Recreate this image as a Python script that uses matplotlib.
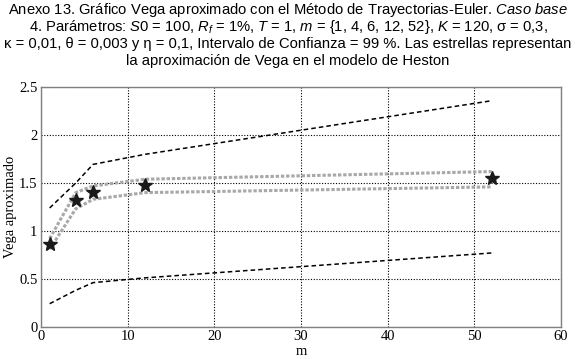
import matplotlib
matplotlib.use("Agg")
import matplotlib.pyplot as plt

m = [1, 4, 6, 12, 52]
upper_black = [1.24, 1.50, 1.695, 1.80, 2.36]
lower_black = [0.24, 0.38, 0.46, 0.51, 0.77]
upper_gray = [0.92, 1.40, 1.47, 1.54, 1.62]
lower_gray = [0.81, 1.23, 1.33, 1.40, 1.46]
heston = [0.86, 1.32, 1.41, 1.48, 1.55]

xticks = [0, 10, 20, 30, 40, 50, 60]
yticks = [0, 0.5, 1, 1.5, 2, 2.5]
yticklabels = ["0", "0.5", "1", "1.5", "2", "2.5"]

plt.rcParams['mathtext.fontset'] = 'custom'
plt.rcParams['mathtext.rm'] = 'Liberation Sans'
plt.rcParams['mathtext.it'] = 'Liberation Sans:italic'

fig = plt.figure(figsize=(5.76, 3.59), dpi=100)
ax = fig.add_axes([0.0712, 0.090, 0.9028, 0.6668])

ax.plot(m, upper_black, color='black', lw=1.1, dashes=(3, 2))
ax.plot(m, lower_black, color='black', lw=1.1, dashes=(3, 2))
ax.plot(m, upper_gray, color='#a8a8a8', lw=2.2, dashes=(1.1, 0.6))
ax.plot(m, lower_gray, color='#a8a8a8', lw=2.2, dashes=(1.1, 0.6))
ax.plot(m, heston, linestyle='none', marker='*', markersize=10, color='#1a1a1a')

ax.set_xlim(0, 60)
ax.set_ylim(0, 2.5)
ax.set_xticks(xticks)
ax.set_yticks(yticks)
ax.set_yticklabels(yticklabels)
ax.grid(True, color='black', lw=0.8, dashes=(1, 1.5))
ax.set_axisbelow(True)
for s in ax.spines.values():
    s.set_color('#808080')
    s.set_linewidth(1.0)
ax.tick_params(length=0, pad=2.5, labelsize=10.5)
for lab in ax.get_xticklabels() + ax.get_yticklabels():
    lab.set_fontfamily('Liberation Serif')
ax.set_xlabel('m', fontfamily='Liberation Serif', fontsize=10.5, labelpad=1)
ax.set_ylabel('Vega aproximado', fontfamily='Liberation Serif', fontsize=10.5)
ax.yaxis.set_label_coords(-24 / 520, 0.5)

tf = dict(ha='center', va='center', fontsize=10.6, fontfamily='Liberation Sans')
fig.text(0.5, 1 - 10 / 359, r"Anexo 13. Gráfico Vega aproximado con el Método de Trayectorias-Euler. $\mathit{Caso\ base}$", **tf)
fig.text(0.5, 1 - 27 / 359, r"4. Parámetros: $\mathit{S0}$ = 100, $\mathit{R}_{\mathit{f}}$ = 1%, $\mathit{T}$ = 1, $\mathit{m}$ = {1, 4, 6, 12, 52}, $\mathit{K}$ = 120, σ = 0,3,", **tf)
fig.text(0.5, 1 - 44 / 359, "κ = 0,01, θ = 0,003 y η = 0,1, Intervalo de Confianza = 99 %. Las estrellas representan", **tf)
fig.text(0.5, 1 - 61 / 359, "la aproximación de Vega en el modelo de Heston", **tf)

fig.savefig('out.png', dpi=100)
